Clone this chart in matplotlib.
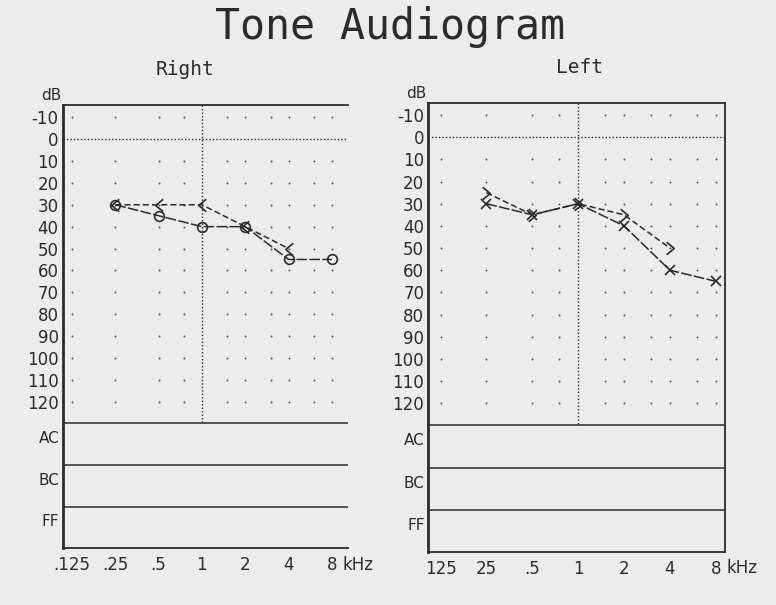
import numpy as np
import matplotlib.pyplot as plt
from matplotlib.path import Path
from matplotlib.ticker import NullLocator
from matplotlib.transforms import blended_transform_factory

# audiogram values (kHz / dB HL)
freqs = [0.25, 0.5, 1, 2, 4, 8]
right_air = [30, 35, 40, 40, 55, 55]
right_bone_f = [0.25, 0.5, 1, 2, 4]
right_bone = [30, 30, 30, 40, 50]
left_air = [30, 35, 30, 40, 60, 65]
left_bone_f = [0.25, 0.5, 1, 2, 4]
left_bone = [25, 35, 30, 35, 50]

grid_freqs = [0.125, 0.25, 0.5, 0.75, 1.5, 2, 3, 4, 6, 8]
grid_db = [-10, 10, 20, 30, 40, 50, 60, 70, 80, 90, 100, 110, 120]
db_ticks = list(range(-10, 130, 10))
tick_freqs = [0.125, 0.25, 0.5, 1, 2, 4, 8]
right_xlabels = ['.125', '.25', '.5', '1', '2', '4', '8']
left_xlabels = ['125', '25', '.5', '1', '2', '4', '8']
row_names = ['AC', 'BC', 'FF']
row_lines = [130, 149, 168]

paper = '#ececec'
ink = '#2b2b2b'
plt.rcParams['font.family'] = 'DejaVu Sans'

# open angle markers for bone conduction
lt_mark = Path([(0.6, 1), (-0.6, 0), (0.6, -1)], [Path.MOVETO, Path.LINETO, Path.LINETO])
gt_mark = Path([(-0.6, 1), (0.6, 0), (-0.6, -1)], [Path.MOVETO, Path.LINETO, Path.LINETO])

fig = plt.figure(figsize=(7.76, 6.05), dpi=100, facecolor=paper)
fig.text(0.503, 0.955, 'Tone Audiogram', ha='center', va='center',
         family='DejaVu Sans Mono', fontsize=30, color=ink)
fig.text(0.238, 0.885, 'Right', ha='center', va='center',
         family='DejaVu Sans Mono', fontsize=14, color=ink)
fig.text(0.747, 0.888, 'Left', ha='center', va='center',
         family='DejaVu Sans Mono', fontsize=14, color=ink)


def draw_panel(ax, xlim, xlabels, air, bone_f, bone, air_marker, bone_marker, right_spine):
    ax.set_facecolor(paper)
    ax.set_xscale('log')
    ax.set_xlim(*xlim)
    ax.set_ylim(187, -15.5)

    # dot grid
    gx, gy = np.meshgrid(grid_freqs, grid_db)
    ax.scatter(gx.ravel(), gy.ravel(), s=2, color='#555555', lw=0, zorder=1)
    ax.axhline(0, color=ink, ls=(0, (1, 1.5)), lw=1)
    ax.plot([1, 1], [-15.5, 130], color=ink, ls=(0, (1, 1.5)), lw=1)

    for y in row_lines:
        ax.axhline(y, color=ink, lw=1.1)
    tr = blended_transform_factory(ax.transAxes, ax.transData)
    for name, y in zip(row_names, row_lines):
        ax.text(-0.012, y + 7, name, transform=tr, ha='right', va='center',
                fontsize=11, color=ink)

    ax.plot(freqs, air, color=ink, lw=1.1, ls=(0, (7, 1.5)), marker=air_marker,
            ms=7, mfc='none', mec=ink, mew=1.2, zorder=3)
    ax.plot(bone_f, bone, color=ink, lw=1.1, ls=(0, (4, 2)), marker=bone_marker,
            ms=9, mec=ink, mfc='none', mew=1.2, zorder=3)

    ax.set_yticks(db_ticks)
    ax.set_yticklabels([str(v) for v in db_ticks])
    ax.set_xticks(tick_freqs)
    ax.set_xticklabels(xlabels)
    ax.xaxis.set_minor_locator(NullLocator())
    ax.tick_params(length=0, labelsize=12, colors=ink)
    ax.tick_params(axis='x', pad=6)
    ax.tick_params(axis='y', pad=3)
    ax.text(-0.005, 1.005, 'dB', transform=ax.transAxes, ha='right', va='bottom',
            fontsize=11, color=ink)
    ax.annotate('kHz', xy=(8, 0), xycoords=ax.get_xaxis_transform(),
                xytext=(8, -12), textcoords='offset points', ha='left',
                va='center', fontsize=12, color=ink)

    for side in ['left', 'top', 'bottom', 'right']:
        ax.spines[side].set_color(ink)
        ax.spines[side].set_linewidth(1.3)
    ax.spines['left'].set_linewidth(2)
    ax.spines['right'].set_visible(right_spine)


ax_r = fig.add_axes([0.081, 0.094, 0.367, 0.732])
draw_panel(ax_r, (0.108, 10.3), right_xlabels, right_air, right_bone_f, right_bone,
           'o', lt_mark, False)

ax_l = fig.add_axes([0.552, 0.088, 0.382, 0.742])
draw_panel(ax_l, (0.104, 9.17), left_xlabels, left_air, left_bone_f, left_bone,
           'x', gt_mark, True)

plt.savefig('out.png', dpi=100, facecolor=paper)
